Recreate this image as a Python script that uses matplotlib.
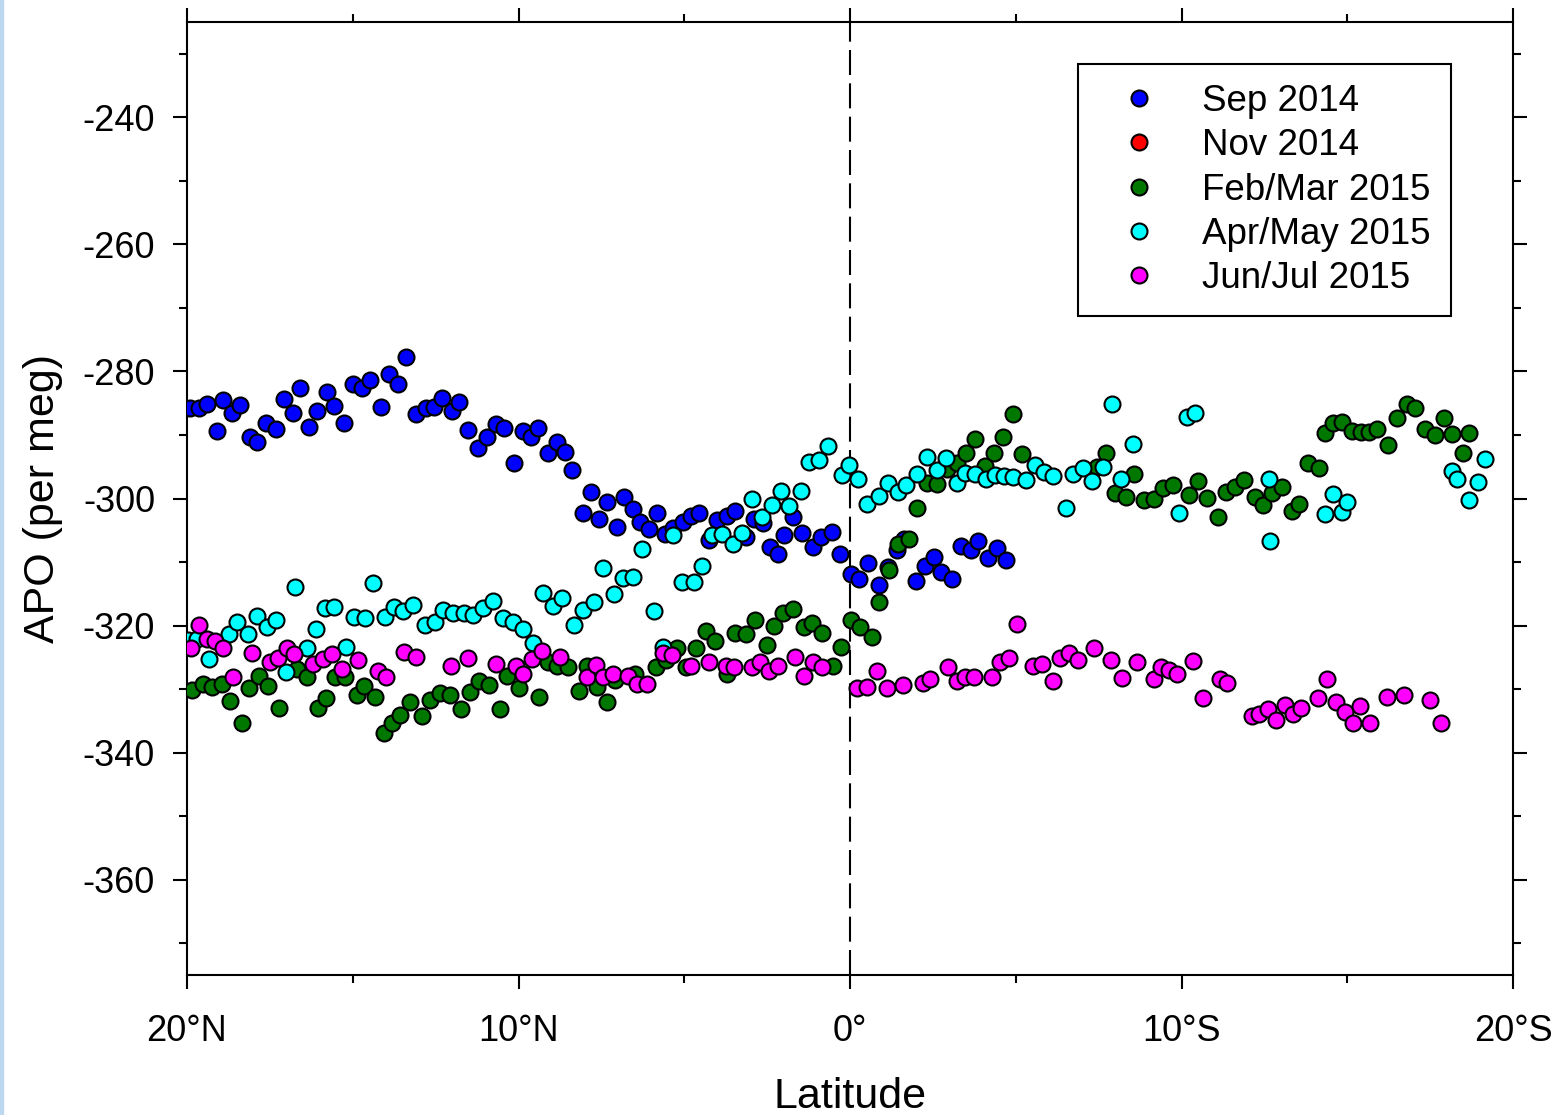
import numpy as np
import matplotlib
matplotlib.use("Agg")
import matplotlib.pyplot as plt
from matplotlib.patches import Rectangle
from matplotlib.ticker import MultipleLocator, FixedLocator

plt.rcParams['font.family'] = ['Liberation Sans', 'DejaVu Sans']
plt.rcParams['axes.unicode_minus'] = False

# latitude: positive = north, negative = south
sep14_lat = [19.91, 19.64, 19.40, 19.10, 18.91, 18.64, 18.40, 18.10, 17.89, 17.62, 17.32, 17.07,
             16.80, 16.59, 16.32, 16.08, 15.78, 15.57, 15.26, 14.99, 14.72, 14.48, 14.15, 13.91,
             13.63, 13.39, 13.09, 12.79, 12.55, 12.31, 12.01, 11.79, 11.52, 11.22, 10.95, 10.68,
             10.44, 10.14, 9.86, 9.62, 9.41, 9.11, 8.84, 8.60, 8.39, 8.05, 7.81, 7.57, 7.33, 7.03,
             6.82, 6.55, 6.33, 6.06, 5.82, 5.58, 5.34, 5.04, 4.80, 4.56, 4.25, 4.01, 3.71, 3.47,
             3.14, 2.90, 2.62, 2.41, 2.17, 1.99, 1.72, 1.45, 1.12, 0.87, 0.54, 0.30, -0.03, -0.27,
             -0.54, -0.87, -1.15, -1.42, -1.63, -1.99, -2.26, -2.53, -2.75, -3.08, -3.35, -3.65,
             -3.86, -4.16, -4.43, -4.71]
sep14_apo = [-285.8, -285.8, -285.1, -289.4, -284.5, -286.5, -285.3, -290.3, -291.1, -288.1, -289.1, -284.3,
             -286.5, -282.6, -288.7, -286.2, -283.2, -285.4, -288.1, -282.0, -282.6, -281.4, -285.6, -280.4,
             -282.0, -277.7, -286.7, -285.8, -285.6, -284.2, -286.2, -284.8, -289.2, -292.0, -290.3, -288.3,
             -288.9, -294.4, -289.4, -290.3, -288.9, -292.8, -291.1, -292.7, -295.5, -302.3, -299.0, -303.2, -300.5, -304.5,
             -299.7, -301.6, -303.7, -304.8, -302.3, -305.6, -304.6, -303.7, -302.7, -302.3, -306.5, -303.4, -302.7, -301.9,
             -306.0, -303.2, -303.8, -307.6, -308.7, -305.7, -302.9, -305.4, -307.6, -306.0, -305.3, -308.7, -311.9, -312.6,
             -310.1, -313.6, -310.8, -308.1, -306.4, -313.0, -310.6, -309.2, -311.5, -312.6, -307.5, -308.1,
             -306.7, -309.3, -307.8, -309.7]

nov14_lat = []
nov14_apo = []

feb15_lat = [19.85, 19.52, 19.25, 18.94, 18.70, 18.34, 18.13, 17.83, 17.56, 17.22, 16.68, 16.38,
             16.05, 15.81, 15.54, 15.23, 14.87, 14.66, 14.33, 14.06, 13.82, 13.57, 13.27, 12.91,
             12.67, 12.37, 12.07, 11.73, 11.46, 11.19, 10.89, 10.56, 10.35, 9.98, 9.38, 9.11,
             8.84, 8.51, 8.18, 7.93, 7.63, 7.33, 7.09, 6.49, 5.85, 5.55, 5.22, 4.95, 4.65, 4.34,
             4.07, 3.71, 3.47, 3.14, 2.87, 2.50, 2.29, 2.02, 1.72, 1.39, 1.15, 0.84, 0.51, 0.27,
             -0.03, -0.30, -0.66, -0.87, -1.18, -1.45, -1.78, -2.02, -2.32, -2.62, -2.93, -3.23,
             -3.50, -3.77, -4.07, -4.34, -4.62, -4.92, -5.19, -7.45, -7.72, -7.99, -8.33, -8.57,
             -8.87, -9.17, -9.44, -9.74, -10.23, -10.50, -10.77, -11.10, -11.34, -11.61, -11.88, -12.22,
             -12.46, -12.73, -13.03, -13.33, -13.54, -13.82, -14.15, -14.33, -14.57, -14.84, -15.14, -15.41,
             -15.66, -15.90, -16.23, -16.50, -16.80, -17.04, -17.35, -17.65, -17.92, -18.16, -18.49, -18.67]
feb15_apo = [-330.1, -329.2, -329.6, -329.2, -331.8, -335.3, -329.8, -327.9, -329.5, -332.9, -326.9, -328.1,
             -332.9, -331.4, -328.1, -328.1, -331.0, -329.5, -331.2, -336.9, -335.3, -334.0, -332.1, -334.3,
             -331.7, -330.6, -331.0, -333.1, -330.4, -328.8, -329.3, -333.1, -327.9, -329.8, -331.2, -325.8,
             -326.3, -326.5, -330.3, -326.3, -329.6, -332.1, -328.5, -327.7, -326.6, -325.4, -323.5, -326.6, -323.5, -320.8,
             -322.5, -327.7, -321.1, -321.4, -319.1, -323.0, -320.0, -318.0, -317.4, -320.2, -319.6, -321.1, -326.3, -323.3,
             -319.2, -320.2, -321.8, -316.3, -311.2, -307.1, -306.4, -301.5, -297.5, -297.7, -295.3, -294.4,
             -292.8, -290.6, -294.9, -292.8, -290.3, -286.7, -293.0, -295.0, -292.8, -299.1, -299.7, -296.1,
             -300.2, -300.1, -298.3, -297.9, -299.4, -297.2, -299.9, -302.9, -299.0, -298.2, -297.1, -299.7,
             -301.0, -299.1, -298.2, -301.9, -300.8, -294.4, -295.2, -289.7, -288.1, -288.0, -289.4, -289.5,
             -289.5, -289.1, -291.6, -287.3, -285.1, -285.8, -289.1, -290.0, -287.3, -289.8, -292.8, -289.7]

apr15_lat = [19.97, 19.70, 19.34, 18.73, 18.49, 18.16, 17.89, 17.59, 17.32, 17.01, 16.74, 16.38,
             16.11, 15.84, 15.57, 15.20, 14.96, 14.63, 14.39, 14.03, 13.76, 13.48, 13.18, 12.82,
             12.52, 12.28, 11.98, 11.64, 11.37, 11.07, 10.77, 10.47, 10.17, 9.86, 9.56, 9.26,
             8.96, 8.69, 8.33, 8.05, 7.72, 7.45, 7.12, 6.85, 6.55, 6.27, 5.91, 5.64, 5.34, 5.07,
             4.71, 4.46, 4.16, 3.86, 3.53, 3.26, 2.96, 2.65, 2.35, 2.08, 1.84, 1.48, 1.24, 0.94,
             0.66, 0.24, 0.03, -0.24, -0.51, -0.87, -1.15, -1.45, -1.69, -2.02, -2.32, -2.62,
             -2.90, -3.23, -3.47, -3.77, -4.10, -4.37, -4.65, -4.92, -5.31, -5.58, -5.85, -6.12,
             -6.52, -6.73, -7.03, -7.30, -7.63, -7.90, -8.17, -8.54, -9.92, -10.17, -10.41, -12.64,
             -12.67, -14.33, -14.57, -14.84, -14.99, -18.16, -18.31, -18.67, -18.94, -19.16]
apr15_apo = [-322.2, -322.1, -325.2, -321.4, -319.4, -321.3, -318.5, -320.3, -319.1, -327.3, -313.9, -323.6,
             -320.5, -317.2, -317.0, -323.3, -318.6, -318.8, -313.3, -318.6, -317.0, -317.7, -316.7, -319.9,
             -319.4, -317.5, -318.1, -318.0, -318.3, -317.2, -316.1, -318.8, -319.4, -320.5, -322.7, -314.8,
             -316.9, -315.6, -319.9, -317.5, -316.3, -310.9, -315.0, -312.5, -312.3, -307.9, -317.7, -323.3, -305.7, -313.1,
             -313.1, -310.6, -305.7, -305.6, -307.1, -305.4, -300.1, -302.9, -301.0, -298.8, -301.2, -298.8, -294.2, -293.9,
             -291.7, -296.3, -294.7, -296.9, -300.8, -299.6, -297.5, -299.0, -297.9, -296.1, -293.5, -295.5,
             -293.6, -297.5, -296.0, -296.1, -296.9, -296.3, -296.4, -296.6, -297.1, -294.7, -295.8, -296.4,
             -301.5, -296.1, -295.2, -297.2, -295.0, -285.1, -296.9, -291.4, -302.3, -287.2, -286.5, -296.9,
             -306.7, -302.4, -299.3, -302.1, -300.5, -295.7, -296.9, -300.2, -297.4, -293.8]

jun15_lat = [19.88, 19.64, 19.40, 19.16, 18.91, 18.61, 18.04, 17.50, 17.25, 16.98, 16.77, 16.20,
             15.90, 15.63, 15.32, 14.84, 14.24, 14.00, 13.45, 13.09, 12.04, 11.52, 10.68, 10.08,
             9.86, 9.59, 9.29, 8.75, 7.93, 7.66, 7.45, 7.15, 6.70, 6.43, 6.12, 5.64, 5.37, 4.80,
             4.25, 3.74, 3.50, 2.96, 2.71, 2.44, 2.17, 1.66, 1.39, 1.12, 0.84, -0.21, -0.51, -0.81,
             -1.12, -1.60, -2.20, -2.41, -2.96, -3.23, -3.47, -3.74, -4.28, -4.52, -4.80, -5.04,
             -5.52, -5.79, -6.12, -6.33, -6.61, -6.88, -7.36, -7.87, -8.21, -8.66, -9.17, -9.38,
             -9.62, -9.86, -10.35, -10.65, -11.16, -11.37, -12.13, -12.34, -12.61, -12.85, -13.12, -13.36,
             -13.60, -14.12, -14.39, -14.66, -14.93, -15.17, -15.38, -15.69, -16.20, -16.71, -17.50, -17.83]
jun15_apo = [-323.5, -319.9, -322.1, -322.5, -323.6, -328.1, -324.3, -325.8, -325.1, -323.5, -324.4, -326.0,
             -325.2, -324.4, -326.8, -325.4, -327.1, -328.1, -324.1, -324.9, -326.3, -325.1, -326.0, -326.3,
             -327.7, -325.2, -324.0, -324.9, -328.1, -326.2, -328.1, -327.7, -327.9, -329.2, -329.2, -324.3, -324.6, -326.3,
             -325.7, -326.3, -326.5, -326.6, -325.7, -327.1, -326.3, -324.9, -327.9, -325.8, -326.5, -329.9, -329.6, -327.1,
             -329.8, -329.3, -329.0, -328.4, -326.6, -328.7, -328.1, -328.1, -328.1, -325.7, -325.1, -319.7,
             -326.3, -326.0, -328.8, -325.1, -324.3, -325.4, -323.6, -325.4, -328.2, -325.8, -328.4, -326.6,
             -327.0, -327.7, -325.5, -331.4, -328.4, -329.0, -334.2, -333.9, -333.2, -334.8, -332.5, -333.9,
             -332.9, -331.4, -328.4, -332.1, -333.6, -335.4, -332.6, -335.3, -331.2, -331.0, -331.7, -335.3]

series = [
    ("Sep 2014", sep14_lat, sep14_apo, "#0000ff"),
    ("Nov 2014", nov14_lat, nov14_apo, "#ff0000"),
    ("Feb/Mar 2015", feb15_lat, feb15_apo, "#007800"),
    ("Apr/May 2015", apr15_lat, apr15_apo, "#00ffff"),
    ("Jun/Jul 2015", jun15_lat, jun15_apo, "#ff00ff"),
]

fig = plt.figure(figsize=(15.59, 11.15), dpi=100)
fig.patches.append(Rectangle((0, 0), 3 / 1559, 1, transform=fig.transFigure,
                             color="#bdd7ee", zorder=0))
ax = fig.add_axes([187 / 1559, 140 / 1115, 1326 / 1559, 953 / 1115])

ax.axvline(0, color="black", lw=1.5, ls=(0, (12, 4)), zorder=1)

for name, lat, apo, col in series:
    ax.plot(lat, apo, "o", ls="none", ms=11.5, mfc=col, mec="black", mew=1.5,
            label=name, zorder=3)

ax.set_xlim(20, -20)
ax.set_ylim(-375, -225)

ax.xaxis.set_major_locator(FixedLocator([20, 10, 0, -10, -20]))
ax.set_xticklabels(["20°N", "10°N", "0°", "10°S", "20°S"])
ax.xaxis.set_minor_locator(FixedLocator([15, 5, -5, -15]))
ax.yaxis.set_major_locator(FixedLocator(np.arange(-360, -239, 20)))
ax.yaxis.set_minor_locator(MultipleLocator(10))

ax.tick_params(which="both", direction="out", width=1.5, top=True, right=True,
               labelsize=26)
ax.tick_params(axis="x", pad=18)
ax.tick_params(axis="y", pad=13)
ax.tick_params(which="major", length=10)
ax.tick_params(which="minor", length=6)
for s in ax.spines.values():
    s.set_linewidth(1.5)

ax.set_xlabel("Latitude", fontsize=31, labelpad=20)
ax.set_ylabel("APO (per meg)", fontsize=31, labelpad=14)

leg = ax.legend(loc="upper right", bbox_to_anchor=(0.953, 0.956), fontsize=26.5,
                frameon=True, fancybox=False, edgecolor="black", framealpha=1,
                borderpad=0.55, labelspacing=0.25, handlelength=2.2,
                handletextpad=0.62, borderaxespad=0, markerscale=1.0)
leg.get_frame().set_linewidth(1.5)

fig.savefig("out.png", dpi=100)
